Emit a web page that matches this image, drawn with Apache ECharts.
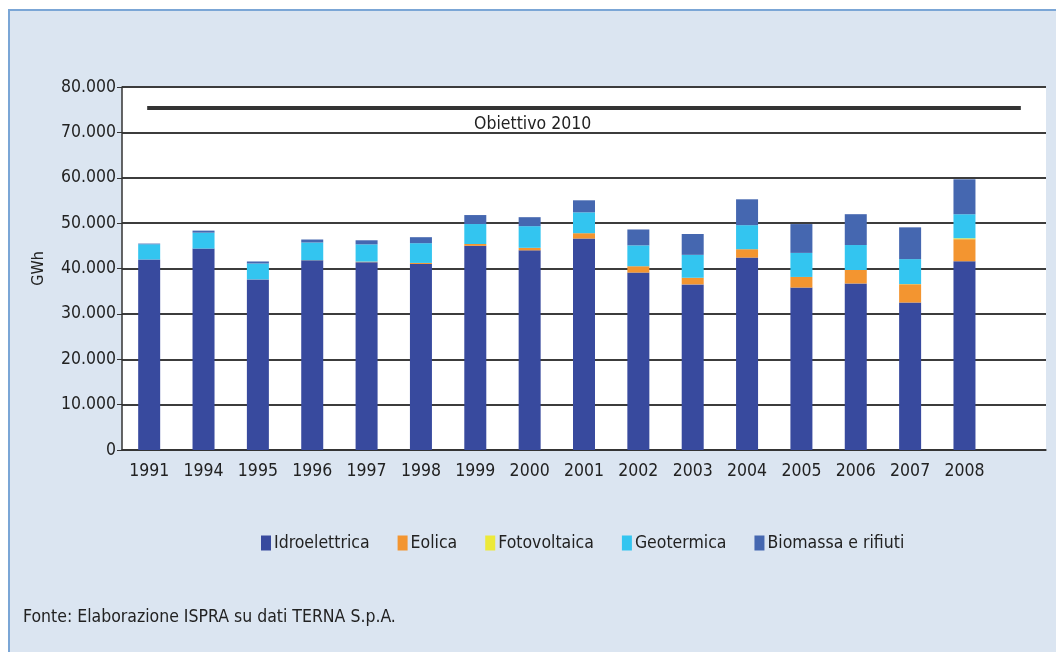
<!DOCTYPE html>
<html>
<head>
<meta charset="utf-8">
<script src="https://cdn.jsdelivr.net/npm/echarts@6/dist/echarts.min.js"></script>
<style>
  html, body { margin: 0; padding: 0; background: #fff; }
  #chart { width: 1056px; height: 652px; }
</style>
</head>
<body>
<div id="chart"></div>
<script>
const FONT = '"DejaVu Sans Condensed", "Liberation Sans", sans-serif';
const FS = 17.5;

const years = ['1991', '1994', '1995', '1996', '1997', '1998', '1999', '2000', '2001',
  '2002', '2003', '2004', '2005', '2006', '2007', '2008', ''];

const idroelettrica = [42000, 44400, 37600, 41800, 41400, 41000, 45000, 44000, 46600,
  39100, 36500, 42400, 35800, 36700, 32500, 41600, null];
const eolica = [0, 0, 10, 30, 120, 230, 400, 560, 1180, 1400, 1460, 1850, 2340, 2970, 4030, 4860, null];
const fotovoltaica = [0, 0, 0, 0, 0, 0, 0, 0, 0, 0, 0, 0, 0, 0, 40, 200, null];
const geotermica = [3340, 3500, 3500, 3900, 3800, 4350, 4400, 4770, 4600, 4600, 5050, 5300,
  5300, 5500, 5500, 5300, null];
const biomassa = [150, 450, 440, 660, 900, 1320, 1980, 1980, 2650, 3500, 4600, 5700, 6350,
  6800, 7000, 7700, null];

const obiettivo2010 = 75500;

const chart = echarts.init(document.getElementById('chart'), null, { renderer: 'canvas' });

function barSeries(name, data, color) {
  return {
    name: name,
    type: 'bar',
    stack: 'tot',
    data: data,
    barWidth: 22,
    itemStyle: { color: color },
    emphasis: { disabled: true }
  };
}

const series = [
  barSeries('Idroelettrica', idroelettrica, '#384a9e'),
  barSeries('Eolica', eolica, '#f39530'),
  barSeries('Fotovoltaica', fotovoltaica, '#ece93a'),
  barSeries('Geotermica', geotermica, '#33c5f0'),
  barSeries('Biomassa e rifiuti', biomassa, '#4567b0')
];

// objective line drawn on the last series
series[4].markLine = {
  silent: true,
  symbol: 'none',
  animation: false,
  lineStyle: { color: '#333', width: 4, type: 'solid', cap: 'square' },
  label: { show: false },
  data: [[{ coord: [0, obiettivo2010] }, { coord: [16, obiettivo2010] }]]
};
series[4].markPoint = {
  silent: true,
  symbol: 'rect',
  symbolSize: 0,
  animation: false,
  label: {
    show: true,
    position: 'bottom',
    distance: 8,
    formatter: 'Obiettivo 2010',
    color: '#222',
    fontFamily: FONT,
    fontSize: FS,
    offset: [3, 0]
  },
  data: [{ coord: [7, obiettivo2010] }]
};

chart.setOption({
  animation: false,
  backgroundColor: '#fff',
  textStyle: { fontFamily: FONT, color: '#222' },
  graphic: [{
    type: 'rect',
    z: -100,
    shape: { x: 9, y: 10, width: 1060, height: 660 },
    style: { fill: '#dbe5f1', stroke: '#7ba6d6', lineWidth: 2 }
  }],
  title: {
    text: 'Fonte: Elaborazione ISPRA su dati TERNA S.p.A.',
    left: 18,
    top: 603,
    textStyle: { fontFamily: FONT, fontSize: FS, fontWeight: 'normal', color: '#222' }
  },
  legend: {
    left: 256,
    top: 529,
    itemWidth: 10,
    itemHeight: 15,
    itemGap: 28,
    icon: 'rect',
    selectedMode: false,
    textStyle: { fontFamily: FONT, fontSize: FS, color: '#222', padding: [0, 0, 0, -2] },
    data: ['Idroelettrica', 'Eolica', 'Fotovoltaica', 'Geotermica', 'Biomassa e rifiuti']
  },
  grid: {
    left: 122,
    right: 10,
    top: 87,
    bottom: 202,
    show: true,
    backgroundColor: '#fff',
    borderWidth: 0
  },
  xAxis: {
    type: 'category',
    data: years,
    axisLine: { lineStyle: { color: '#333', width: 1.5 } },
    axisTick: { length: 5, lineStyle: { color: '#333' } },
    axisLabel: { interval: 0, color: '#222', fontFamily: FONT, fontSize: FS, margin: 12 }
  },
  yAxis: {
    type: 'value',
    min: 0,
    max: 80000,
    interval: 10000,
    name: 'GWh',
    nameLocation: 'middle',
    nameGap: 75,
    nameTextStyle: { fontFamily: FONT, fontSize: 16, color: '#222' },
    axisLine: { show: true, lineStyle: { color: '#333', width: 1.5 } },
    axisTick: { show: true, length: 5, lineStyle: { color: '#333' } },
    axisLabel: {
      color: '#222',
      fontFamily: FONT,
      fontSize: FS,
      margin: 6,
      formatter: v => v.toLocaleString('de-DE')
    },
    splitLine: { lineStyle: { color: '#3c3c3c', width: 2 } }
  },
  series: series
});

window.addEventListener('resize', () => chart.resize());
</script>
</body>
</html>
